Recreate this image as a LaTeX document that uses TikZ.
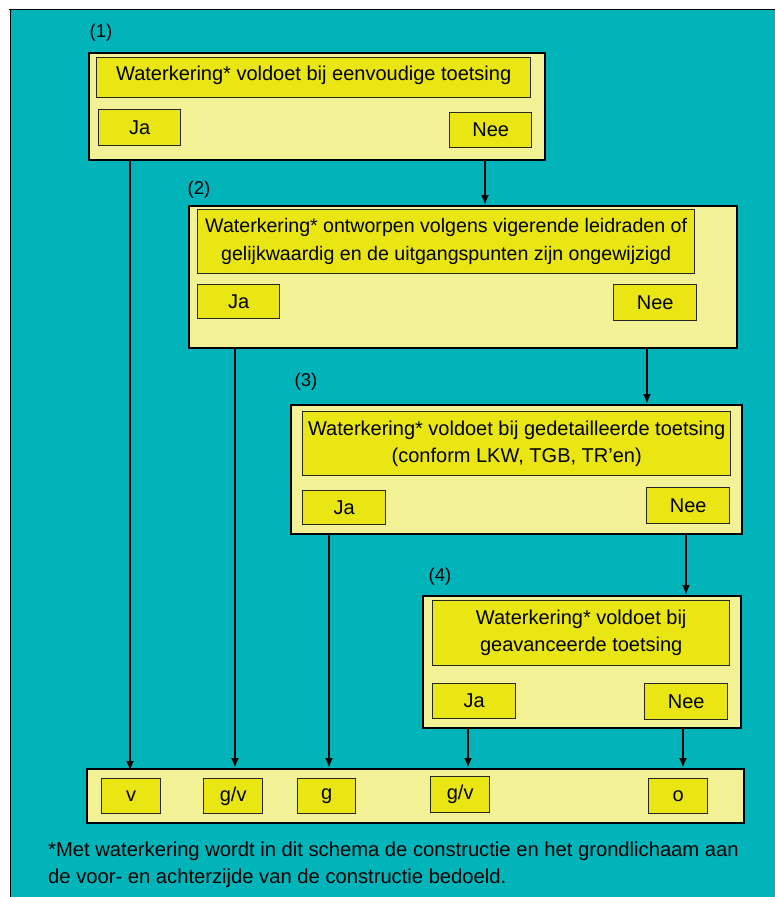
\documentclass[tikz,border=0pt]{standalone}
\usepackage{fontspec}
\setmainfont{Liberation Sans}
\definecolor{teal0}{RGB}{0,180,185}
\definecolor{paleY}{RGB}{243,241,150}
\definecolor{boxY}{RGB}{234,230,20}
\tikzset{
  outer/.style={draw=black, fill=paleY, line width=1.8pt, inner sep=0pt, anchor=north west},
  inner/.style={draw=black!85, fill=boxY, line width=1.4pt, inner sep=0pt, anchor=north west, align=center,
    font=\fontsize{20}{27}\selectfont},
  lbl/.style={font=\fontsize{18.5}{22}\selectfont, inner sep=0pt},
  arr/.style={draw=black, line width=2pt, -{Latex[length=10pt,width=8pt]}},
}
\usetikzlibrary{arrows.meta}
\begin{document}
\begin{tikzpicture}[x=1pt,y=-1pt]
\useasboundingbox (0,0) rectangle (775,897);
\fill[white] (0,0) rectangle (775,897);
\fill[teal0] (10,10) rectangle (775,897);
\draw[line width=1.8pt] (9,9.5) -- (775,9.5);
\draw[line width=1.8pt] (10.5,9) -- (10.5,897);

% box 1
\node[lbl] (l1) at (101,33) {(1)};
\node[outer, minimum width=456pt, minimum height=107pt] (b1) at (88,52) {};
\node[inner, minimum width=434pt, minimum height=40pt] (t1) at (96,57) {Waterkering* voldoet bij eenvoudige toetsing\rule[-9pt]{0pt}{0pt}};
\node[inner, minimum width=82pt, minimum height=36pt] (j1) at (98,109) {Ja};
\node[inner, minimum width=82pt, minimum height=35pt] (n1) at (449,112) {Nee};

% box 2
\node[lbl] (l2) at (199,190) {(2)};
\node[outer, minimum width=548pt, minimum height=142pt] (b2) at (188,205) {};
\node[inner, minimum width=497pt, minimum height=64pt, font=\fontsize{19.6}{28}\selectfont] (t2) at (197,209) {Waterkering* ontworpen volgens vigerende leidraden of\\gelijkwaardig en de uitgangspunten zijn ongewijzigd};
\node[inner, minimum width=82pt, minimum height=34pt] (j2) at (197,284) {Ja};
\node[inner, minimum width=83pt, minimum height=36pt] (n2) at (613,284) {Nee};

% box 3
\node[lbl] (l3) at (306,382) {(3)};
\node[outer, minimum width=451pt, minimum height=129pt] (b3) at (290,404) {};
\node[inner, minimum width=428pt, minimum height=64pt] (t3) at (302,411) {Waterkering* voldoet bij gedetailleerde toetsing\\(conform LKW, TGB, TR'en)};
\node[inner, minimum width=83pt, minimum height=34pt] (j3) at (302,490) {Ja};
\node[inner, minimum width=83pt, minimum height=36pt] (n3) at (646,487) {Nee};

% box 4
\node[lbl] (l4) at (440,577) {(4)};
\node[outer, minimum width=318pt, minimum height=132pt] (b4) at (422,595) {};
\node[inner, minimum width=297pt, minimum height=65pt] (t4) at (432,600) {Waterkering* voldoet bij\\geavanceerde toetsing};
\node[inner, minimum width=83pt, minimum height=35pt] (j4) at (432,683) {Ja};
\node[inner, minimum width=83pt, minimum height=36pt] (n4) at (644,683) {Nee};

% bottom
\node[outer, minimum width=657pt, minimum height=54pt] (bot) at (86,768) {};
\node[inner, minimum width=59pt, minimum height=35pt] (rv) at (101,778) {v};
\node[inner, minimum width=59pt, minimum height=35pt] (rgv1) at (203,778) {g/v};
\node[inner, minimum width=58pt, minimum height=35pt] (rg) at (297,778) {g};
\node[inner, minimum width=59pt, minimum height=36pt] (rgv2) at (430,776) {g/v};
\node[inner, minimum width=59pt, minimum height=35pt] (ro) at (648,778) {o};

% connector x positions
\coordinate (x1) at (130,0);
\coordinate (x1n) at (485,0);
\coordinate (x2) at (235,0);
\coordinate (x2n) at (647,0);
\coordinate (x3) at (329,0);
\coordinate (x3n) at (686,0);
\coordinate (x4) at (468,0);
\coordinate (x4n) at (683,0);

\draw[arr] (b1.south -| x1n) -- (b2.north -| x1n);
\draw[arr] (b2.south -| x2n) -- (b3.north -| x2n);
\draw[arr] (b3.south -| x3n) -- (b4.north -| x3n);

\draw[arr] (b1.south -| x1) -- ([yshift=-3pt]bot.north -| x1);
\draw[arr] (b2.south -| x2) -- (bot.north -| x2);
\draw[arr] (b3.south -| x3) -- (bot.north -| x3);
\draw[arr] (b4.south -| x4) -- (bot.north -| x4);
\draw[arr] (b4.south -| x4n) -- (bot.north -| x4n);

% footnote
\node[anchor=north west, inner sep=0pt, align=left, font=\fontsize{20.2}{27}\selectfont] (fn) at (48,842)
  {*Met waterkering wordt in dit schema de constructie en het grondlichaam aan\\de voor- en achterzijde van de constructie bedoeld.};
\end{tikzpicture}
\end{document}
